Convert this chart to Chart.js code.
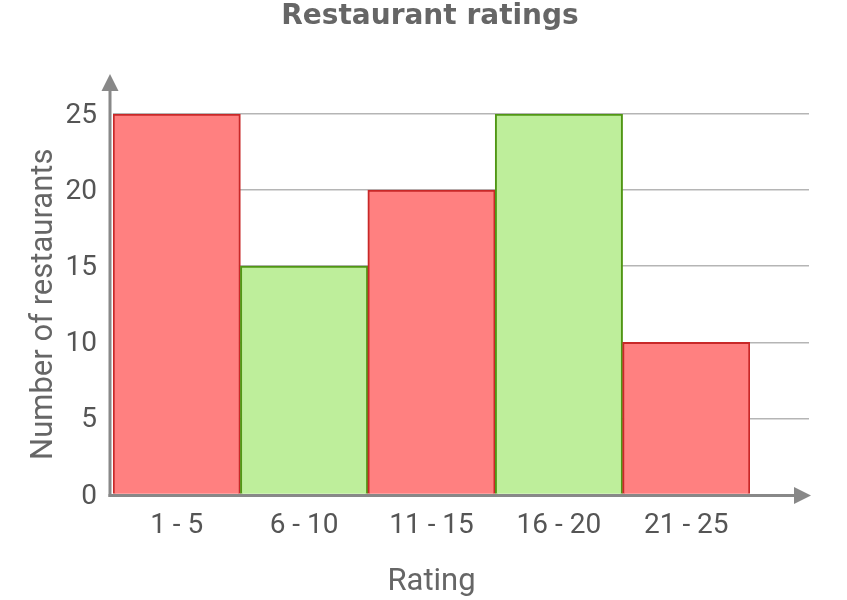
<!DOCTYPE html>
<html>
<head>
<meta charset="utf-8">
<script src="https://cdn.jsdelivr.net/npm/chart.js@4"></script>
<style>
  html, body { margin: 0; padding: 0; background: #fff; }
  #wrap { width: 847px; height: 600px; }
</style>
</head>
<body>
<div id="wrap"><canvas id="ratingsChart" width="847" height="600"></canvas></div>
<script>
// data
const categories = ['1 - 5', '6 - 10', '11 - 15', '16 - 20', '21 - 25'];
const counts = [25, 15, 20, 25, 10];
const yTicks = [0, 5, 10, 15, 20, 25];

const RED_FILL = 'rgb(255, 128, 128)';
const RED_LINE = 'rgb(200, 40, 40)';
const GREEN_FILL = 'rgb(190, 238, 155)';
const GREEN_LINE = 'rgb(80, 150, 20)';
const AXIS = '#888888';
const GRID = '#b5b5b5';
const GRID_W = 1.5;

// axes with arrow heads, and grid lines running past the last bar
const axisArrows = {
    id: 'axisArrows',
    afterDatasetsDraw(chart) {
        const ctx = chart.ctx;
        const area = chart.chartArea;
        const yScale = chart.scales.y;
        const axisX = area.left - 3;
        const axisY = area.bottom + 1;
        const endX = area.right + 59;

        ctx.save();
        // grid extension, snapped the same way Chart.js snaps its grid
        ctx.strokeStyle = GRID;
        ctx.lineWidth = GRID_W;
        yTicks.forEach(function(v) {
            if (v === 0) return;
            const py = Math.round(yScale.getPixelForValue(v) - GRID_W / 2) + GRID_W / 2;
            ctx.beginPath();
            ctx.moveTo(area.right, py);
            ctx.lineTo(endX, py);
            ctx.stroke();
        });

        ctx.strokeStyle = AXIS;
        ctx.fillStyle = AXIS;
        ctx.lineWidth = 3;
        // y axis
        ctx.beginPath();
        ctx.moveTo(axisX, axisY + 1.5);
        ctx.lineTo(axisX, area.top - 24);
        ctx.stroke();
        ctx.beginPath();
        ctx.moveTo(axisX, area.top - 40);
        ctx.lineTo(axisX - 8.5, area.top - 23);
        ctx.lineTo(axisX + 8.5, area.top - 23);
        ctx.closePath();
        ctx.fill();
        // x axis
        ctx.beginPath();
        ctx.moveTo(axisX - 1.5, axisY);
        ctx.lineTo(endX - 14, axisY);
        ctx.stroke();
        ctx.beginPath();
        ctx.moveTo(endX + 2, axisY);
        ctx.lineTo(endX - 15, axisY - 8.5);
        ctx.lineTo(endX - 15, axisY + 8.5);
        ctx.closePath();
        ctx.fill();
        ctx.restore();
    }
};

const ctx = document.getElementById('ratingsChart').getContext('2d');
new Chart(ctx, {
    type: 'bar',
    data: {
        labels: categories,
        datasets: [{
            data: counts,
            backgroundColor: [RED_FILL, GREEN_FILL, RED_FILL, GREEN_FILL, RED_FILL],
            borderColor: [RED_LINE, GREEN_LINE, RED_LINE, GREEN_LINE, RED_LINE],
            borderWidth: 2,
            barPercentage: 1,
            categoryPercentage: 1
        }]
    },
    options: {
        responsive: false,
        animation: false,
        layout: { padding: { left: 13, right: 0, top: 0, bottom: 0 } },
        plugins: {
            legend: { display: false },
            tooltip: { enabled: false },
            title: {
                display: true,
                text: 'Restaurant ratings',
                color: '#666666',
                font: { family: 'DejaVu Sans', size: 28, weight: 'bold' },
                padding: { top: 0, bottom: 80.4 }
            }
        },
        scales: {
            x: {
                grid: { display: false },
                border: { display: false },
                ticks: {
                    color: '#555555',
                    font: { family: 'Roboto', size: 28 },
                    padding: 7,
                    maxRotation: 0
                },
                title: {
                    display: true,
                    text: 'Rating',
                    color: '#666666',
                    font: { family: 'Roboto', size: 31 },
                    padding: { top: -1, bottom: -1 }
                },
                afterFit: function(scale) { scale.height = 105.5; }
            },
            y: {
                min: 0,
                max: 25,
                grid: { color: GRID, lineWidth: GRID_W, drawTicks: false },
                border: { display: false },
                afterBuildTicks: function(scale) {
                    scale.ticks = yTicks.map(function(v) { return { value: v }; });
                },
                ticks: {
                    color: '#555555',
                    font: { family: 'Roboto', size: 28 },
                    padding: 16,
                    labelOffset: 2
                },
                title: {
                    display: true,
                    text: 'Number of restaurants',
                    color: '#666666',
                    font: { family: 'Roboto', size: 31 },
                    padding: { top: 13, bottom: 0 }
                },
                afterFit: function(scale) { scale.width = 100; }
            },
            // empty right-hand axis, only reserves the room the arrows and grid run into
            yRight: {
                position: 'right',
                grid: { display: false },
                border: { display: false },
                ticks: { display: false },
                afterFit: function(scale) { scale.width = 97; }
            }
        }
    },
    plugins: [axisArrows]
});
</script>
</body>
</html>
